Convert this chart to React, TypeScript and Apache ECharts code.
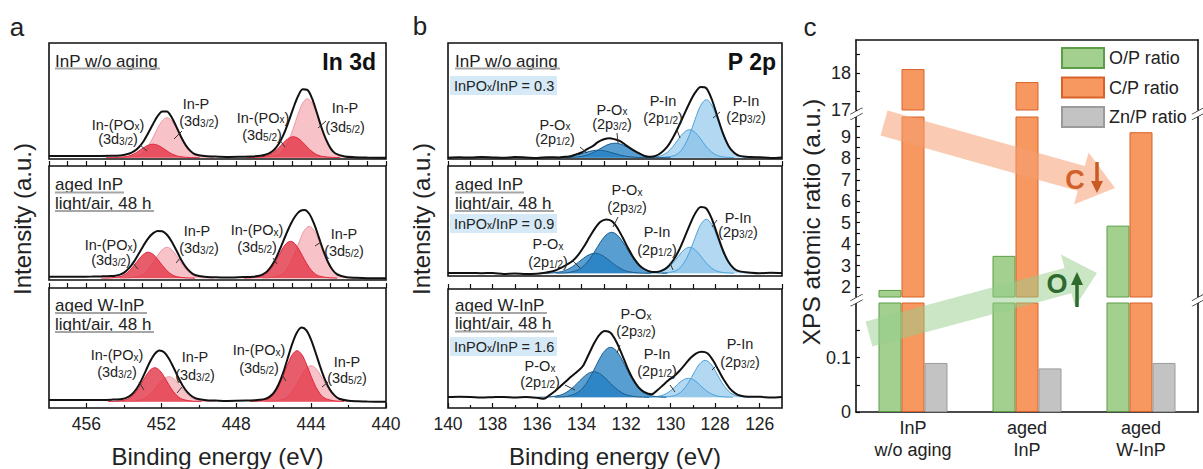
import React, { useEffect, useRef } from "react";
import * as echarts from "echarts";

const FONT = '"Liberation Sans", Arial, Helvetica, sans-serif';

// ---------------- Panel a : In 3d ----------------
const A_LABELS = [440, 444, 448, 452, 456];
const A_MINOR = [442, 446, 450, 454];

const A1_ENV = [[440,0],[441,0.1],[441.7,0.5],[442.2,1.2],[442.7,4.2],[442.95,9.1],[443.2,18.0],[443.45,30.4],[443.7,45.4],[443.95,59.3],[444.2,67.8],[444.45,68.4],[444.7,61.4],[444.95,49.6],[445.2,36.2],[445.45,24.0],[445.7,14.6],[445.95,8.5],[446.2,4.8],[446.45,2.9],[446.7,1.9],[447.2,1.2],[447.7,1.0],[448.5,0.8],[449.2,1.15],[449.7,1.6],[450.2,3.5],[450.45,6.8],[450.7,12.6],[450.95,21.0],[451.2,31.1],[451.45,40.4],[451.7,46.1],[451.95,46.3],[452.2,41.5],[452.45,33.5],[452.7,24.6],[452.95,16.5],[453.2,10.5],[453.45,6.5],[453.7,4.2],[453.95,3.0],[454.2,2.3],[454.7,1.9],[455.2,1.7],[456,1.6],[457,1.6],[458,1.6]];
const A1_INP32_E = [449.2,449.7,450.2,450.45,450.7,450.95,451.2,451.45,451.7,451.95,452.2,452.45,452.7,452.95,453.2,453.7,454.2];
const A1_INP32_I = [0.3,0.7,2.6,5.8,11.7,20,29.4,37,40,37,29.4,20,11.7,5.8,2.6,0.7,0.3];
const A1_POX32_E = [449.95,450.45,450.95,451.2,451.45,451.7,451.95,452.2,452.45,452.7,452.95,453.2,453.45,453.7,453.95,454.45,454.95];
const A1_POX32_I = [0.1,0.2,0.9,2.0,3.9,6.8,9.9,12.5,13.5,12.5,9.9,6.8,3.9,2.0,0.9,0.2,0.1];
const A1_INP52_E = [441.7,442.2,442.7,442.95,443.2,443.45,443.7,443.95,444.2,444.45,444.7,444.95,445.2,445.45,445.7,446.2,446.7];
const A1_INP52_I = [0.5,1.1,3.8,8.6,17.2,29.5,43.4,54.6,59,54.6,43.4,29.5,17.2,8.6,3.8,1.1,0.5];
const A1_POX52_E = [442.45,442.95,443.45,443.7,443.95,444.2,444.45,444.7,444.95,445.2,445.45,445.7,445.95,446.2,446.45,446.95,447.45];
const A1_POX52_I = [0.2,0.4,1.4,3.1,6.1,10.5,15.4,19.4,21,19.4,15.4,10.5,6.1,3.1,1.4,0.4,0.2];

const A2_ENV = [[440,0],[441,0.1],[441.6,0.5],[442.1,1.1],[442.6,3.8],[442.85,8.3],[443.1,16.3],[443.35,27.9],[443.6,41.7],[443.85,54.9],[444.1,64.5],[444.35,68.4],[444.6,67.2],[444.85,62.0],[445.1,53.8],[445.35,43.3],[445.6,31.9],[445.85,21.2],[446.1,12.8],[446.35,6.9],[446.6,3.7],[446.85,2.2],[447.1,1.6],[447.6,1.2],[448.1,0.9],[448.6,0.8],[449.2,1.1],[449.7,1.5],[450.2,3.3],[450.45,6.2],[450.7,11.4],[450.95,18.9],[451.2,28.0],[451.45,36.9],[451.7,43.6],[451.95,47.1],[452.2,47.4],[452.45,44.9],[452.7,40.0],[452.95,32.9],[453.2,24.7],[453.45,16.9],[453.7,10.6],[453.95,6.2],[454.2,3.7],[454.45,2.6],[454.7,2.2],[455.2,1.9],[455.7,1.7],[456.5,1.6],[458,1.6]];
const A2_INP32_E = [449.2,449.7,450.2,450.45,450.7,450.95,451.2,451.45,451.7,451.95,452.2,452.45,452.7,452.95,453.2,453.7,454.2];
const A2_INP32_I = [0.2,0.6,2.0,4.5,9.1,15.5,22.8,28.7,31,28.7,22.8,15.5,9.1,4.5,2.0,0.6,0.2];
const A2_POX32_E = [450.2,450.7,451.2,451.45,451.7,451.95,452.2,452.45,452.7,452.95,453.2,453.45,453.7,453.95,454.2,454.7,455.2];
const A2_POX32_I = [0.2,0.5,1.7,3.8,7.6,13,19.1,24.1,26,24.1,19.1,13,7.6,3.8,1.7,0.5,0.2];
const A2_INP52_E = [441.6,442.1,442.6,442.85,443.1,443.35,443.6,443.85,444.1,444.35,444.6,444.85,445.1,445.35,445.6,446.1,446.6];
const A2_INP52_I = [0.4,0.9,3.4,7.6,15.2,26,38.2,48.2,52,48.2,38.2,26,15.2,7.6,3.4,0.9,0.4];
const A2_POX52_E = [442.6,443.1,443.6,443.85,444.1,444.35,444.6,444.85,445.1,445.35,445.6,445.85,446.1,446.35,446.6,447.1,447.6];
const A2_POX52_I = [0.3,0.7,2.4,5.4,10.8,18.5,27.2,34.3,37,34.3,27.2,18.5,10.8,5.4,2.4,0.7,0.3];

const A3_ENV = [[440,0],[441,0.1],[441.5,0.4],[442,0.9],[442.5,3.0],[442.75,6.3],[443,12.2],[443.25,21.5],[443.5,34.2],[443.75,48.5],[444,61.9],[444.25,71.3],[444.5,74.2],[444.75,69.5],[445,58.3],[445.25,43.4],[445.5,28.5],[445.75,16.7],[446,8.9],[446.25,4.6],[446.5,2.6],[446.75,1.9],[447,1.5],[447.5,1.1],[448,0.9],[448.5,0.8],[449.1,1.1],[449.6,1.4],[450.1,2.9],[450.35,5.2],[450.6,9.3],[450.85,15.7],[451.1,24.4],[451.35,34.2],[451.6,43.2],[451.85,49.4],[452.1,51.2],[452.35,47.9],[452.6,40.2],[452.85,30.1],[453.1,20.1],[453.35,12.2],[453.6,7.0],[453.85,4.1],[454.1,2.8],[454.35,2.3],[454.6,2.1],[455.1,1.8],[455.6,1.7],[456.5,1.6],[458,1.6]];
const A3_INP32_E = [449.1,449.6,450.1,450.35,450.6,450.85,451.1,451.35,451.6,451.85,452.1,452.35,452.6,452.85,453.1,453.6,454.1];
const A3_INP32_I = [0.2,0.5,1.6,3.7,7.3,12.5,18.4,23.2,25,23.2,18.4,12.5,7.3,3.7,1.6,0.5,0.2];
const A3_POX32_E = [449.85,450.35,450.85,451.1,451.35,451.6,451.85,452.1,452.35,452.6,452.85,453.1,453.35,453.6,453.85,454.35,454.85];
const A3_POX32_I = [0.3,0.6,2.2,5.0,9.9,17,25,31.5,34,31.5,25,17,9.9,5.0,2.2,0.6,0.3];
const A3_INP52_E = [441.5,442,442.5,442.75,443,443.25,443.5,443.75,444,444.25,444.5,444.75,445,445.25,445.5,446,446.5];
const A3_INP52_I = [0.3,0.6,2.3,5.3,10.5,18,26.5,33.3,36,33.3,26.5,18,10.5,5.3,2.3,0.6,0.3];
const A3_POX52_E = [442.25,442.75,443.25,443.5,443.75,444,444.25,444.5,444.75,445,445.25,445.5,445.75,446,446.25,446.75,447.25];
const A3_POX52_I = [0.4,0.9,3.3,7.4,14.9,25.5,37.5,47.2,51,47.2,37.5,25.5,14.9,7.4,3.3,0.9,0.4];

// ---------------- Panel b : P 2p ----------------
const B_LABELS = [126, 128, 130, 132, 134, 136, 138, 140];
const B_MINOR = [127, 129, 131, 133, 135, 137, 139];

const B1_ENV = [[125,0.3],[125.5,-0.2],[126,0.4],[126.4,0.6],[126.9,1.8],[127.15,4.9],[127.4,11.8],[127.65,24.3],[127.9,41.0],[128.15,58.2],[128.4,69.5],[128.65,70.6],[128.9,65],[129.15,55],[129.4,43],[129.65,31],[129.9,20],[130.15,11],[130.4,5.5],[130.65,2.0],[130.9,0.9],[131.1,1.2],[131.3,3.0],[131.5,5.4],[131.75,8.6],[132,12.3],[132.25,16.4],[132.5,18.3],[132.75,19.5],[133,18.4],[133.25,15.8],[133.5,11.6],[133.75,8.6],[134,5.2],[134.25,3.3],[134.5,1.5],[134.75,0.9],[135,0.2],[135.5,0.5],[136,-0.3],[136.5,0.2],[137,0.6],[137.5,-0.1],[138,0.3],[138.5,0.7],[139,0.1],[139.5,0.4],[140,0.0]];
const B1_PIN32_E = [126.4,126.9,127.15,127.4,127.65,127.9,128.15,128.4,128.65,128.9,129.15,129.4,129.65,129.9,130.4];
const B1_PIN32_I = [0.3,1.7,4.5,11.3,23,38.5,52.4,58,52.4,38.5,23,11.3,4.5,1.7,0.3];
const B1_PIN12_E = [127.15,127.65,127.9,128.15,128.4,128.65,128.9,129.15,129.4,129.65,129.9,130.15,130.4,130.65,131.15];
const B1_PIN12_I = [0.1,0.8,2.2,5.4,11.1,18.6,25.3,28,25.3,18.6,11.1,5.4,2.2,0.8,0.1];
const B1_POX32_E = [130,130.5,131,131.25,131.5,131.75,132,132.25,132.5,132.75,133,133.25,133.5,133.75,134,134.5,135];
const B1_POX32_I = [0,0.2,1.3,2.7,4.9,7.9,11.1,13.6,14.5,13.6,11.1,7.9,4.9,2.7,1.3,0.2,0];
const B1_POX12_E = [130.75,131.25,131.75,132,132.25,132.5,132.75,133,133.25,133.5,133.75,134,134.25,134.5,134.75,135.25,135.75];
const B1_POX12_I = [0,0.1,0.7,1.4,2.5,4.1,5.7,7,7.5,7,5.7,4.1,2.5,1.4,0.7,0.1,0];

const B2_ENV = [[125,0.2],[125.5,0.5],[126,0.1],[126.4,0.6],[126.9,1.9],[127.15,4.6],[127.4,11.2],[127.65,22.8],[127.9,38.4],[128.15,54.3],[128.4,64.8],[128.65,66.3],[128.9,59.8],[129.15,48.0],[129.4,34.5],[129.65,22.0],[129.9,12.6],[130.15,6.0],[130.4,2.6],[130.65,1.3],[130.9,1.6],[131.15,3.8],[131.4,7.8],[131.65,14.9],[131.9,24.6],[132.15,35.5],[132.4,45.6],[132.65,52.3],[132.9,53.9],[133.15,51.5],[133.4,45.0],[133.65,36.0],[133.9,26.5],[134.15,18.5],[134.4,12.5],[134.65,8.8],[134.9,5.8],[135.15,3.0],[135.4,1.5],[135.65,0.6],[136,-0.4],[136.5,-0.8],[137,-0.2],[137.5,-0.6],[138,0.3],[138.5,0.1],[139,0.4],[139.5,0.2],[140,0.3]];
const B2_PIN32_E = [126.4,126.9,127.15,127.4,127.65,127.9,128.15,128.4,128.65,128.9,129.15,129.4,129.65,129.9,130.4];
const B2_PIN32_I = [0.3,1.6,4.2,10.5,21.4,35.8,48.8,54,48.8,35.8,21.4,10.5,4.2,1.6,0.3];
const B2_PIN12_E = [127.15,127.65,127.9,128.15,128.4,128.65,128.9,129.15,129.4,129.65,129.9,130.15,130.4,130.65,131.15];
const B2_PIN12_I = [0.1,0.8,2,5,10.3,17.2,23.5,26,23.5,17.2,10.3,5,2,0.8,0.1];
const B2_POX32_E = [130.15,130.65,131.15,131.4,131.65,131.9,132.15,132.4,132.65,132.9,133.15,133.4,133.65,133.9,134.15,134.65,135.15];
const B2_POX32_I = [0.1,0.6,3.6,7.5,13.9,22.3,31.3,38.3,41,38.3,31.3,22.3,13.9,7.5,3.6,0.6,0.1];
const B2_POX12_E = [130.9,131.4,131.9,132.15,132.4,132.65,132.9,133.15,133.4,133.65,133.9,134.15,134.4,134.65,134.9,135.4,135.9];
const B2_POX12_I = [0.1,0.3,1.7,3.7,6.8,10.9,15.3,18.7,20,18.7,15.3,10.9,6.8,3.7,1.7,0.3,0.1];

const B3_ENV = [[125,0.4],[125.5,-0.3],[126,0.5],[126.5,0.5],[126.85,1.5],[127.1,4],[127.35,9],[127.6,17],[127.85,27],[128.1,37],[128.35,44],[128.6,45.5],[128.85,44],[129.1,39.5],[129.35,33],[129.6,26.5],[129.85,21],[130.1,17],[130.35,12],[130.6,7],[130.85,3.0],[131.2,5.5],[131.45,10.2],[131.7,18.5],[131.95,30],[132.2,43.5],[132.45,56],[132.7,64.5],[132.95,66.3],[133.2,62.5],[133.45,53.5],[133.7,42],[133.95,31],[134.2,25.5],[134.45,21],[134.7,16],[134.95,11],[135.2,6],[135.45,2],[135.7,-1.5],[136,-0.5],[136.5,0.3],[137,-0.2],[137.5,0.4],[138,0.1],[138.5,-0.3],[139,0.3],[139.5,0.5],[140,0.2]];
const B3_PIN32_E = [126.45,126.95,127.2,127.45,127.7,127.95,128.2,128.45,128.7,128.95,129.2,129.45,129.7,129.95,130.45];
const B3_PIN32_I = [0.2,1.1,2.8,7.2,14.7,24.5,33.4,37,33.4,24.5,14.7,7.2,2.8,1.1,0.2];
const B3_PIN12_E = [127.2,127.7,127.95,128.2,128.45,128.7,128.95,129.2,129.45,129.7,129.95,130.2,130.45,130.7,131.2];
const B3_PIN12_I = [0.1,0.6,1.5,3.7,7.5,12.6,17.2,19,17.2,12.6,7.5,3.7,1.5,0.6,0.1];
const B3_POX32_E = [130.2,130.7,131.2,131.45,131.7,131.95,132.2,132.45,132.7,132.95,133.2,133.45,133.7,133.95,134.2,134.7,135.2];
const B3_POX32_I = [0.2,0.8,4.4,9.2,17,27.2,38.2,46.8,50,46.8,38.2,27.2,17,9.2,4.4,0.8,0.2];
const B3_POX12_E = [130.95,131.45,131.95,132.2,132.45,132.7,132.95,133.2,133.45,133.7,133.95,134.2,134.45,134.7,134.95,135.45,135.95];
const B3_POX12_I = [0.1,0.4,2.2,4.7,8.7,13.9,19.5,23.9,25.6,23.9,19.5,13.9,8.7,4.7,2.2,0.4,0.1];

// ---------------- Panel c : XPS atomic ratios ----------------
const CATS = ["InP\nw/o aging", "aged\nInP", "aged\nW-InP"];
const O_P = [1.86, 3.45, 4.86];
const C_P = [18.1, 17.75, 9.22];
const ZN_P = [0.09, 0.08, 0.09];
const C_TOP_TICKS = [17, 17.5, 18, 18.5];
const C_TOP_LABELS = [17, 18];
const C_MID_TICKS = [2, 2.5, 3, 3.5, 4, 4.5, 5, 5.5, 6, 6.5, 7, 7.5, 8, 8.5, 9, 9.5];
const C_MID_LABELS = [2, 3, 4, 5, 6, 7, 8, 9];
const C_LOW_TICKS = [0, 0.05, 0.1, 0.15];
const C_LOW_LABELS = [0, 0.1];

// ---------------- helpers ----------------
const zip = (e: number[], v: number[]) => e.map((x, i) => [x, v[i]]);
const tickStyle = { color: "#111", width: 1.2 };
const FRAME = "#111";

const PINK_F = "rgba(242,158,168,0.62)", PINK_L = "#ef97a2";
const RED_F = "rgba(226,52,70,0.8)", RED_L = "#e2253a";
const LB_F = "rgba(128,190,232,0.6)", LB_L = "#4aa2dc";
const DB_F = "rgba(32,126,194,0.75)", DB_L = "#1d5e8e";

const comp = (data: any, xi: number, yi: number, fill: string, stroke: string, z: number) => ({
  type: "line", xAxisIndex: xi, yAxisIndex: yi, data, smooth: 0.35, symbol: "none", showSymbol: false,
  silent: true, z, lineStyle: { color: stroke, width: 1 }, areaStyle: { color: fill, opacity: 1 },
});
const envS = (data: any, xi: number, yi: number) => ({
  type: "line", xAxisIndex: xi, yAxisIndex: yi, data, smooth: 0.3, symbol: "none", showSymbol: false,
  silent: true, z: 6, lineStyle: { color: "#111", width: 2 },
});

const baseX = (grid: number, min: number, max: number, position: string) => ({
  type: "value", gridIndex: grid, min, max, inverse: true, position,
  axisLine: { show: false, onZero: false }, axisTick: { show: false }, axisLabel: { show: false }, splitLine: { show: false },
});
const gapX = (grid: number, min: number, max: number) => ({
  ...baseX(grid, min, max, "top"), interval: 1,
  axisTick: { show: true, inside: false, length: 5, lineStyle: tickStyle },
});
const labelX = (grid: number, min: number, max: number, labels: number[]) => ({
  ...baseX(grid, min, max, "bottom"),
  axisTick: { show: true, inside: true, length: 5, customValues: labels, lineStyle: tickStyle },
  axisLabel: { show: true, customValues: labels, fontSize: 17.5, fontFamily: FONT, color: "#222", margin: 7 },
});
const minorX = (grid: number, min: number, max: number, ticks: number[]) => ({
  ...baseX(grid, min, max, "bottom"),
  axisTick: { show: true, inside: true, length: 3, customValues: ticks, lineStyle: tickStyle },
});
const hidY = (grid: number, min: number, max: number) => ({ type: "value", gridIndex: grid, min, max, show: false });
const cY = (grid: number, min: number, max: number, ticks: number[], labels: number[]) => ({
  type: "value", gridIndex: grid, min, max, position: "left",
  axisLine: { show: true, lineStyle: { color: FRAME, width: 1.6 } },
  axisTick: { show: true, inside: true, length: 4, customValues: ticks, lineStyle: tickStyle },
  axisLabel: { show: true, customValues: labels, fontSize: 18, fontFamily: FONT, color: "#222", margin: 5 },
  splitLine: { show: false },
});
const cYR = (grid: number, min: number, max: number) => ({
  type: "value", gridIndex: grid, min, max, position: "right",
  axisLine: { show: true, lineStyle: { color: FRAME, width: 1.6 } },
  axisTick: { show: false }, axisLabel: { show: false }, splitLine: { show: false },
});
const barS = (name: string, data: number[], xi: number, yi: number, color: string, border: string) => ({
  type: "bar", name, data, xAxisIndex: xi, yAxisIndex: yi, barWidth: 23, barGap: "0%", clip: true, silent: true, z: 2,
  itemStyle: { color, borderColor: border, borderWidth: 1 },
});

const RICH = {
  n: { fontSize: 14.5, fontFamily: FONT, fill: "#222", lineHeight: 14, verticalAlign: "middle" },
  s: { fontSize: 10, fontFamily: FONT, fill: "#222", lineHeight: 4, verticalAlign: "bottom" },
};
const INPOX = "{n|In-(PO}{s|x}{n|)}";
const D32 = "{n|(3d}{s|3/2}{n|)}";
const D52 = "{n|(3d}{s|5/2}{n|)}";
const INP = "{n|In-P}";
const POX = "{n|P-O}{s|x}";
const P12 = "{n|(2p}{s|1/2}{n|)}";
const P32 = "{n|(2p}{s|3/2}{n|)}";
const PIN = "{n|P-In}";
const ratio = (v: string) => "{n|InPO}{s|x}{n|/InP = " + v + "}";

const txt = (x: number, y: number, text: string, o: any = {}, extra: any = {}) => ({
  type: "text", x, y, z: 100, silent: true, ...extra,
  style: { text, fontSize: 14.5, fontFamily: FONT, fill: "#222", align: "center", verticalAlign: "middle", rich: RICH, ...o },
});
const ln = (x1: number, y1: number, x2: number, y2: number, stroke = "#333", lineWidth = 1) => ({
  type: "line", z: 100, silent: true, shape: { x1, y1, x2, y2 }, style: { stroke, lineWidth },
});

const ANNOT = [
  [118,124.5,INPOX],[118,139,D32],[196,104,INP],[199,121,D32],[263,117.5,INPOX],[262,135,D52],[345,107.5,INP],[345,127,D52],
  [111,245,INPOX],[111,260,D32],[197,231,INP],[199,248,D32],[257,230,INPOX],[257,247,D52],[344,234,INP],[344,251,D52],
  [117,355,INPOX],[117,372,D32],[195,357,INP],[195,375,D32],[259,350,INPOX],[259,368,D52],[347,362,INP],[347,378,D52],
  [555,124.5,POX],[555,139,P12],[612,109.5,POX],[612,124,P32],[663,101,PIN],[663,118,P12],[746,101,PIN],[746,117,P32],
  [548,244,POX],[548,262,P12],[627,190,POX],[627,207,P32],[657,232,PIN],[657,250,P12],[738,217.5,PIN],[738,232,P32],
  [540,366,POX],[540,382,P12],[636,314,POX],[636,331,P32],[657,354,PIN],[657,371,P12],[740,344,PIN],[740,362,P32],
];
const LEADERS = [
  [140,145,147,151],[182,131,174,139],[279,139,285,147],[326,121,318,128],
  [132,262,138,269],[181,257,176,263],[273,258,277,264],[321,242,315,246],
  [139,382,144,390],[182,387,177,393],[282,375,286,381],[328,382,322,387],
  [580,147,587,153],[617,133,618,143],[677,130,680,138],[720,112,713,118],
  [572,260,580,268],[618,217,613,227],[670,263,673,270],[717,220,712,227],
  [565,385,575,390],[620,345,617,353],[670,385,675,392],[717,365,712,370],
];
const HEADERS = [
  [55,61,"InP w/o aging",160,68.5],[55,184,"aged InP",124,192.5],[55,203,"light/air, 48 h",154,211],
  [55,305,"aged W-InP",147,313],[55,324,"light/air, 48 h",154,332],
  [455,61,"InP w/o aging",560,68.5],[455,184,"aged InP",524,192.5],[455,203,"light/air, 48 h",554,211],
  [455,305,"aged W-InP",547,313],[455,323,"light/air, 48 h",554,331.5],
];
const RATIOS = [[76,"0.3"],[214,"0.9"],[337,"1.6"]];

function buildOption() {
  const grids = [
    { left: 49, top: 43, width: 337, height: 116 },
    { left: 49, top: 166, width: 337, height: 114 },
    { left: 49, top: 288, width: 337, height: 120 },
    { left: 448, top: 43, width: 334, height: 116 },
    { left: 448, top: 166, width: 334, height: 110 },
    { left: 448, top: 289, width: 334, height: 119 },
    { left: 856, top: 40, width: 342, height: 70 },
    { left: 856, top: 117, width: 342, height: 180 },
    { left: 856, top: 303, width: 342, height: 109 },
  ].map((g, i) => ({
    ...g, outerBoundsMode: "none", containLabel: false,
    show: i < 6, borderColor: FRAME, borderWidth: 1.6, backgroundColor: "transparent",
  }));

  const xAxis = [
    baseX(0, 440, 458, "bottom"),
    gapX(1, 440, 458),
    gapX(2, 440, 458),
    labelX(2, 440, 458, A_LABELS),
    minorX(2, 440, 458, A_MINOR),
    baseX(3, 125, 140, "bottom"),
    gapX(4, 125, 140),
    gapX(5, 125, 140),
    labelX(5, 125, 140, B_LABELS),
    minorX(5, 125, 140, B_MINOR),
    { type: "category", gridIndex: 6, data: CATS, position: "top",
      axisLine: { show: true, onZero: false, lineStyle: { color: FRAME, width: 1.6 } }, axisTick: { show: false }, axisLabel: { show: false } },
    { type: "category", gridIndex: 7, data: CATS, show: false },
    { type: "category", gridIndex: 8, data: CATS, position: "bottom",
      axisLine: { show: true, onZero: false, lineStyle: { color: FRAME, width: 1.6 } },
      axisTick: { show: true, inside: true, alignWithLabel: true, length: 5, lineStyle: tickStyle },
      axisLabel: { fontSize: 18, fontFamily: FONT, color: "#222", lineHeight: 22, margin: 5 } },
  ];
  const yAxis = [
    hidY(0, -1.3, 114.7), hidY(1, -1.7, 112.3), hidY(2, -6.3, 113.7),
    hidY(3, -1.3, 114.7), hidY(4, -2.7, 107.3), hidY(5, -10.7, 108.3),
    cY(6, 17, 18.88, C_TOP_TICKS, C_TOP_LABELS),
    cY(7, 1.53, 9.93, C_MID_TICKS, C_MID_LABELS),
    cY(8, 0, 0.2, C_LOW_TICKS, C_LOW_LABELS),
    cYR(6, 17, 18.88), cYR(7, 1.53, 9.93), cYR(8, 0, 0.2),
  ];

  const aSub = (xi: number, yi: number, env: any, p32: any, d32: any, p52: any, d52: any) => [
    comp(p32, xi, yi, PINK_F, PINK_L, 2), comp(p52, xi, yi, PINK_F, PINK_L, 2),
    comp(d32, xi, yi, RED_F, RED_L, 3), comp(d52, xi, yi, RED_F, RED_L, 3),
    envS(env, xi, yi),
  ];
  const bSub = (xi: number, yi: number, env: any, in32: any, in12: any, ox32: any, ox12: any) => [
    comp(in32, xi, yi, LB_F, LB_L, 2), comp(in12, xi, yi, LB_F, LB_L, 2),
    comp(ox32, xi, yi, DB_F, DB_L, 3), comp(ox12, xi, yi, DB_F, DB_L, 3),
    envS(env, xi, yi),
  ];

  const series: any[] = [
    ...aSub(0, 0, A1_ENV, zip(A1_INP32_E, A1_INP32_I), zip(A1_POX32_E, A1_POX32_I), zip(A1_INP52_E, A1_INP52_I), zip(A1_POX52_E, A1_POX52_I)),
    ...aSub(1, 1, A2_ENV, zip(A2_INP32_E, A2_INP32_I), zip(A2_POX32_E, A2_POX32_I), zip(A2_INP52_E, A2_INP52_I), zip(A2_POX52_E, A2_POX52_I)),
    ...aSub(2, 2, A3_ENV, zip(A3_INP32_E, A3_INP32_I), zip(A3_POX32_E, A3_POX32_I), zip(A3_INP52_E, A3_INP52_I), zip(A3_POX52_E, A3_POX52_I)),
    ...bSub(5, 3, B1_ENV, zip(B1_PIN32_E, B1_PIN32_I), zip(B1_PIN12_E, B1_PIN12_I), zip(B1_POX32_E, B1_POX32_I), zip(B1_POX12_E, B1_POX12_I)),
    ...bSub(6, 4, B2_ENV, zip(B2_PIN32_E, B2_PIN32_I), zip(B2_PIN12_E, B2_PIN12_I), zip(B2_POX32_E, B2_POX32_I), zip(B2_POX12_E, B2_POX12_I)),
    ...bSub(7, 5, B3_ENV, zip(B3_PIN32_E, B3_PIN32_I), zip(B3_PIN12_E, B3_PIN12_I), zip(B3_POX32_E, B3_POX32_I), zip(B3_POX12_E, B3_POX12_I)),
  ];
  [[10, 6], [11, 7], [12, 8]].forEach(([xi, yi]) => {
    series.push(barS("O/P ratio", O_P, xi, yi, "#a3d08f", "#5b9e47"));
    series.push(barS("C/P ratio", C_P, xi, yi, "#f6985f", "#d9622a"));
    series.push(barS("Zn/P ratio", ZN_P, xi, yi, "#c3c3c3", "#9b9b9b"));
  });

  const el: any[] = [];
  // panel letters
  el.push(txt(17, 27, "a", { fontSize: 26, rich: null }));
  el.push(txt(420, 26, "b", { fontSize: 26, rich: null }));
  el.push(txt(810, 27, "c", { fontSize: 26, rich: null }));
  // axis titles
  el.push(txt(217.5, 456, "Binding energy (eV)", { fontSize: 24, rich: null }));
  el.push(txt(615, 456, "Binding energy (eV)", { fontSize: 24, rich: null }));
  el.push(txt(22, 219, "Intensity (a.u.)", { fontSize: 24, rich: null }, { rotation: Math.PI / 2 }));
  el.push(txt(421, 219, "Intensity (a.u.)", { fontSize: 24, rich: null }, { rotation: Math.PI / 2 }));
  el.push(txt(811, 222, "XPS atomic ratio (a.u.)", { fontSize: 24.5, rich: null }, { rotation: Math.PI / 2 }));
  // headers
  HEADERS.forEach(([x, y, t, x2, uy]: any) => {
    el.push(txt(x, y, t, { fontSize: 17, align: "left", rich: null }));
    el.push(ln(x, uy, x2, uy, "#a6a6a6", 2));
  });
  el.push(txt(376, 62, "In 3d", { fontSize: 23, fontWeight: "bold", align: "right", rich: null, fill: "#111" }));
  el.push(txt(776, 62, "P 2p", { fontSize: 23, fontWeight: "bold", align: "right", rich: null, fill: "#111" }));
  RATIOS.forEach(([y, v]: any) => {
    el.push({ type: "rect", z: 90, silent: true, shape: { x: 450, y, width: 107, height: 19 }, style: { fill: "#d5e9f6" } });
    el.push(txt(454, y + 9.5, ratio(v), { align: "left" }));
  });
  ANNOT.forEach(([x, y, t]: any) => el.push(txt(x, y, t)));
  LEADERS.forEach(([x1, y1, x2, y2]: any) => el.push(ln(x1, y1, x2, y2)));

  // panel c arrows
  el.push({ type: "polygon", z: 10, silent: true, shape: { points: [[887.5,110.5],[1084.8,166],[1088.6,152.5],[1115,188],[1074,204.5],[1077.8,191],[880.5,135.5]] }, style: { fill: "rgba(245,160,115,0.55)" } });
  el.push({ type: "polygon", z: 10, silent: true, shape: { points: [[865.6,321.4],[1064.6,268.1],[1061,254.6],[1097,273],[1075,306.8],[1071.4,293.3],[872.4,346.6]] }, style: { fill: "rgba(150,205,140,0.5)" } });
  el.push(txt(1075, 180, "C", { fontSize: 27, fontWeight: "bold", fill: "#d2602a", rich: null }));
  el.push(ln(1097, 162, 1097, 184, "#c95a22", 3.5));
  el.push({ type: "polygon", z: 100, silent: true, shape: { points: [[1091, 181], [1103, 181], [1097, 193]] }, style: { fill: "#c95a22" } });
  el.push(txt(1057, 283.5, "O", { fontSize: 27, fontWeight: "bold", fill: "#2d6a2d", rich: null }));
  el.push(ln(1077, 307, 1077, 283, "#2d6a2d", 3.5));
  el.push({ type: "polygon", z: 100, silent: true, shape: { points: [[1071, 285], [1083, 285], [1077, 272]] }, style: { fill: "#2d6a2d" } });

  // axis break marks
  [[856.5, 113.5], [856.5, 300], [1198, 113.5], [1198, 300]].forEach(([x, y]) => {
    el.push({ type: "polygon", z: 101, silent: true, shape: { points: [[x - 6, y + 1], [x + 6, y - 5.5], [x + 6, y - 0.5], [x - 6, y + 6]] }, style: { fill: "#fff" } });
    el.push(ln(x - 6, y + 1, x + 6, y - 5.5, "#111", 1.4));
    el.push(ln(x - 6, y + 6, x + 6, y - 0.5, "#111", 1.4));
  });

  return {
    animation: false,
    backgroundColor: "#ffffff",
    textStyle: { fontFamily: FONT },
    grid: grids,
    xAxis,
    yAxis,
    legend: {
      data: ["O/P ratio", "C/P ratio", "Zn/P ratio"], orient: "vertical", left: 1061, top: 47,
      itemWidth: 42, itemHeight: 20, itemGap: 7.5, padding: 0, icon: "rect", selectedMode: false,
      textStyle: { fontSize: 18, fontFamily: FONT, color: "#222" },
    },
    series,
    graphic: { elements: el },
  };
}

export default function App() {
  const ref = useRef<HTMLDivElement>(null);
  useEffect(() => {
    document.body.style.margin = "0";
    const chart = echarts.init(ref.current as HTMLDivElement, null, { renderer: "svg" });
    chart.setOption(buildOption() as any);
    return () => chart.dispose();
  }, []);
  return <div ref={ref} style={{ width: 1203, height: 469 }} />;
}
